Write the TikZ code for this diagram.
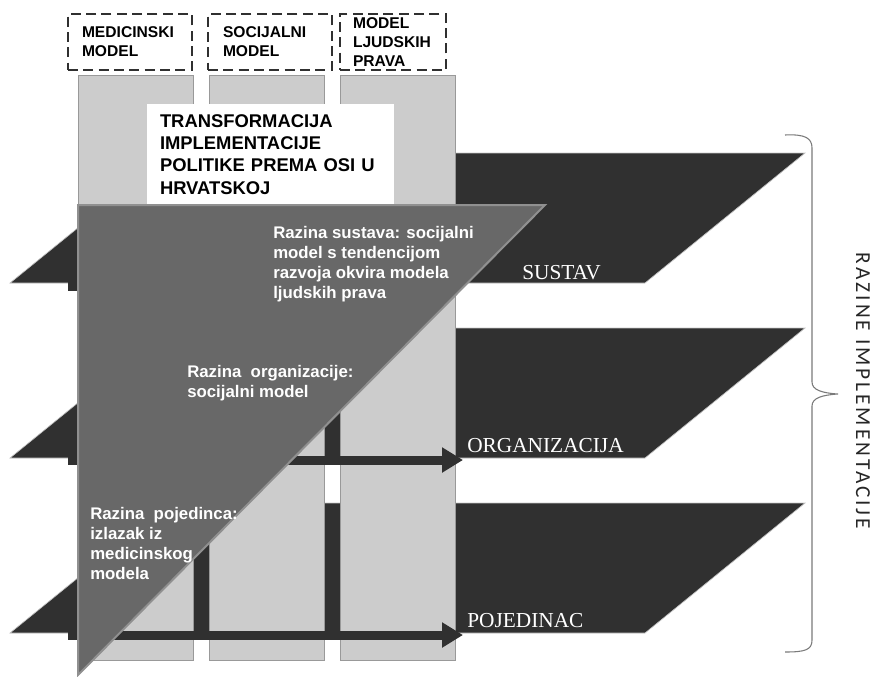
\documentclass[tikz,border=0pt]{standalone}
\usepackage{fontspec}
\setmainfont{Liberation Serif}
\setsansfont{Liberation Sans}
\newfontfamily\sidefont[LetterSpace=14]{Carlito}
\usetikzlibrary{arrows.meta}
\definecolor{planegray}{HTML}{303030}
\definecolor{pillargray}{HTML}{CCCCCC}
\definecolor{pillaredge}{HTML}{999999}
\definecolor{wedgegray}{HTML}{686868}
\definecolor{wedgeedge}{HTML}{909090}
\definecolor{bracegray}{HTML}{7A7A7A}
\tikzset{
  plane/.style={fill=planegray,draw=gray!45,line width=0.5pt},
  pillar/.style={fill=pillargray,draw=pillaredge,line width=0.6pt},
  levelarrow/.style={draw=planegray,line width=6.75pt,-{Triangle[length=15.75pt,width=18pt]}},
  modelbox/.style={draw=planegray,dash pattern=on 7.5pt off 4pt,line width=2pt,align=left,
    inner ysep=2pt,minimum height=42pt,font=\sffamily\bfseries\fontsize{11.7}{14.25}\selectfont},
  wedgetext/.style={text=white,anchor=north west,inner sep=0pt,align=left,
    font=\sffamily\bfseries\fontsize{12.6}{15}\selectfont},
  levellabel/.style={text=white,anchor=base west,inner sep=0pt,font=\rmfamily\fontsize{16}{19}\selectfont}
}
\begin{document}
\begin{tikzpicture}[x=0.75pt,y=-0.75pt]
\useasboundingbox (0,0) rectangle (880,676);
\foreach \yb in {283,458,633}
  \filldraw[plane] (10,\yb) -- (645,\yb) -- (805,{\yb-130}) -- (170,{\yb-130}) -- cycle;
\foreach \xl in {78,209,340}
  \filldraw[pillar] (\xl,75) rectangle ({\xl+115},660);
\foreach \yb/\nm in {286/sus,460/org,635/poj}{
  \coordinate (\nm-start) at (68,\yb);
  \coordinate (\nm-tip) at (463,\yb);
  \draw[levelarrow] (\nm-start) -- (\nm-tip);
}
\node[fill=white,align=left,inner xsep=9.75pt,text width=165.75pt,minimum height=75.75pt,
  font=\sffamily\bfseries\fontsize{13.8}{16.7}\selectfont] (title) at (270.5,154.5)
  {TRANSFORMACIJA\\IMPLEMENTACIJE\\POLITIKE PREMA OSI U\\HRVATSKOJ};
\filldraw[fill=wedgegray,draw=wedgeedge,line width=1.5pt] (78,205) -- (545,205) -- (78,675) -- cycle;
\node[wedgetext] (sustava) at (273,226) {Razina sustava: socijalni\\model s tendencijom\\razvoja okvira modela\\ljudskih prava};
\node[wedgetext] (organizacije) at (187,365) {Razina \ organizacije:\\socijalni model};
\node[wedgetext] (pojedinca) at (90,507) {Razina \ pojedinca:\\izlazak iz\\medicinskog\\modela};
\node[levellabel] (sus-lbl) at (522,279) {SUSTAV};
\node[levellabel] (org-lbl) at (467,452) {ORGANIZACIJA};
\node[levellabel] (poj-lbl) at (467,627) {POJEDINAC};
\node[modelbox,inner xsep=10.5pt,text width=72pt] (medicinski) at (130,42) {MEDICINSKI\\MODEL};
\node[modelbox,inner xsep=11.25pt,text width=70.5pt] (socijalni) at (270,42) {SOCIJALNI\\MODEL};
\node[modelbox,inner xsep=9.75pt,text width=60pt] (prava) at (393,42) {MODEL\\LJUDSKIH\\PRAVA};
\draw[bracegray,line width=0.8pt] (785,135) .. controls (805,134) and (812,138) .. (812,148) -- (812,382)
  .. controls (812,390) and (822,393) .. (838,394) .. controls (822,395) and (812,398) .. (812,406)
  -- (812,640) .. controls (812,650) and (805,652) .. (785,652);
\node[rotate=-90,text=black!85,font=\sidefont\fontsize{16}{19}\selectfont] (razine) at (863,391) {RAZINE IMPLEMENTACIJE};
\end{tikzpicture}
\end{document}
